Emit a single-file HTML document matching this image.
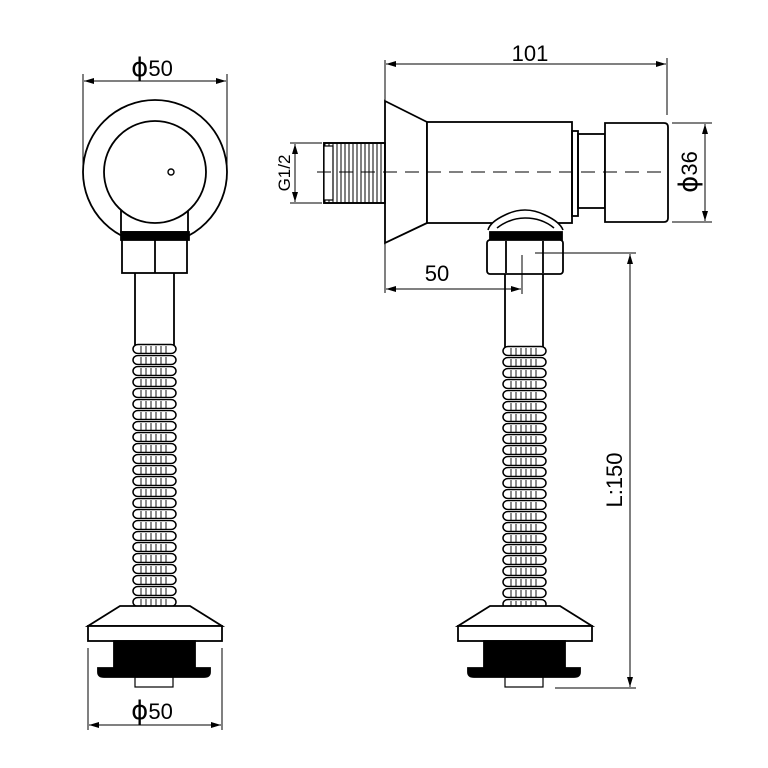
<!DOCTYPE html>
<html><head><style>html,body{margin:0;padding:0;background:#fff}svg{display:block}</style></head>
<body>
<svg width="768" height="768" viewBox="0 0 768 768" xmlns="http://www.w3.org/2000/svg" font-family="Liberation Sans, sans-serif">
<defs>
<pattern id="spr" x="132" y="343" width="60" height="11" patternUnits="userSpaceOnUse">
<rect x="1" y="1.5" width="43" height="9" rx="5" fill="#fff" stroke="#000" stroke-width="1.5"/>
<path d="M9 3v7M14 3v7M19 3v7M24 3v7M29 3v7M34 3v7" stroke="#000" stroke-width="0.9"/>
</pattern>
<pattern id="spr2" x="502" y="345" width="60" height="11" patternUnits="userSpaceOnUse">
<rect x="1" y="1.5" width="43" height="9" rx="5" fill="#fff" stroke="#000" stroke-width="1.5"/>
<path d="M9 3v7M14 3v7M19 3v7M24 3v7M29 3v7M34 3v7" stroke="#000" stroke-width="0.9"/>
</pattern>
<pattern id="thr" x="324" y="143" width="4" height="60" patternUnits="userSpaceOnUse">
<rect width="4" height="60" fill="#fff"/><line x1="1" y1="0" x2="1" y2="60" stroke="#000" stroke-width="1"/>
</pattern>
<marker id="ar" viewBox="0 0 10 6" refX="10" refY="3" markerWidth="10" markerHeight="6" orient="auto-start-reverse" markerUnits="userSpaceOnUse"><path d="M0 0L10 3L0 6z" fill="#000"/></marker>
</defs>
<g fill="none" stroke="#000" stroke-width="1.8">
<!-- LEFT VIEW -->
<circle cx="155" cy="172" r="72"/>
<path d="M121 205 V232 H188 V205"/>
<circle cx="155" cy="172" r="51" fill="#fff"/>
<circle cx="171" cy="172" r="3" stroke-width="1.4"/>
<rect x="121" y="232" width="68" height="8" fill="#000"/>
<rect x="122" y="240" width="65" height="33" fill="#fff"/>
<line x1="155" y1="240" x2="155" y2="273"/>
<path d="M135 273 V345 M174 273 V345"/>
<rect x="132" y="343" width="46" height="263" fill="url(#spr)" stroke="none"/>
<!-- left base -->
<path d="M120 606 H190 L222 626 H88 Z" fill="#fff"/>
<rect x="88" y="626" width="134" height="15" fill="#fff"/>
<rect x="114" y="641" width="81" height="27" fill="#000"/>
<path d="M98 668 H210 V672 Q210 677 204 677 H104 Q98 677 98 672 Z" fill="#000"/>
<rect x="135" y="677" width="38" height="10" stroke-width="1.2"/>
<!-- RIGHT VIEW -->
<rect x="324" y="143" width="61" height="60" fill="url(#thr)" />
<path d="M385 101 L427 122 V223 L385 243 Z" fill="#fff"/>
<rect x="427" y="122" width="145" height="101" fill="#fff"/>
<rect x="572" y="131" width="6" height="85"/>
<rect x="578" y="134" width="27" height="74"/>
<path d="M605 123 H664 Q668 123 668 127 V218 Q668 222 664 222 H605 Z" fill="#fff"/>
<path d="M488 230 Q490 222 505 215 Q525 205 545 215 Q560 222 563 230 M497 228 Q510 218 525 218 Q542 218 554 228" stroke-width="1.6" fill="#fff"/>
<rect x="490" y="232" width="72" height="8" fill="#000"/>
<rect x="487" y="240" width="76" height="34" rx="3" fill="#fff"/>
<path d="M506 241 V273 M543 241 V273"/>
<path d="M505 274 V348 M543 274 V348"/>
<rect x="502" y="345" width="46" height="262" fill="url(#spr2)" stroke="none"/>
<path d="M490 606 H560 L592 626 H458 Z" fill="#fff"/>
<rect x="458" y="626" width="134" height="15" fill="#fff"/>
<rect x="484" y="641" width="81" height="27" fill="#000"/>
<path d="M468 668 H580 V672 Q580 677 574 677 H474 Q468 677 468 672 Z" fill="#000"/>
<rect x="505" y="677" width="38" height="10" stroke-width="1.2"/>
<rect x="324" y="143" width="61" height="60" stroke-width="1.6"/>
<rect x="324" y="146" width="9" height="54" fill="#fff" stroke-width="1.2"/>
<!-- centerline -->
<line x1="317" y1="172" x2="668" y2="172" stroke-width="1" stroke-dasharray="14,8"/>
<!-- dimensions -->
<g stroke-width="1">
<line x1="83" y1="74" x2="83" y2="170"/><line x1="227" y1="74" x2="227" y2="170"/>
<line x1="84" y1="81" x2="226" y2="81" marker-start="url(#ar)" marker-end="url(#ar)"/>
<line x1="88" y1="648" x2="88" y2="730"/><line x1="222" y1="648" x2="222" y2="730"/>
<line x1="89" y1="725" x2="221" y2="725" marker-start="url(#ar)" marker-end="url(#ar)"/>
<line x1="385" y1="60" x2="385" y2="293"/><line x1="667" y1="58" x2="667" y2="115"/>
<line x1="386" y1="64" x2="666" y2="64" marker-start="url(#ar)" marker-end="url(#ar)"/>
<line x1="290" y1="143" x2="322" y2="143"/><line x1="290" y1="203" x2="322" y2="203"/>
<line x1="295" y1="144" x2="295" y2="202" marker-start="url(#ar)" marker-end="url(#ar)"/>
<line x1="672" y1="123" x2="712" y2="123"/><line x1="672" y1="222" x2="712" y2="222"/>
<line x1="705" y1="124" x2="705" y2="221" marker-start="url(#ar)" marker-end="url(#ar)"/>
<line x1="522" y1="255" x2="522" y2="294"/>
<line x1="386" y1="289" x2="521" y2="289" marker-start="url(#ar)" marker-end="url(#ar)"/>
<line x1="535" y1="253" x2="636" y2="253"/><line x1="555" y1="688" x2="636" y2="688"/>
<line x1="630" y1="254" x2="630" y2="687" marker-start="url(#ar)" marker-end="url(#ar)"/>
</g>
</g>
<g fill="#000" font-size="22" text-anchor="middle">
<text x="152" y="76"><tspan font-size="26" font-family="DejaVu Sans, sans-serif">ϕ</tspan>50</text>
<text x="152" y="719"><tspan font-size="26" font-family="DejaVu Sans, sans-serif">ϕ</tspan>50</text>
<text x="530" y="61">101</text>
<text x="437" y="281">50</text>
<text transform="translate(290,173) rotate(-90)" font-size="17">G1/2</text>
<text transform="translate(697,172) rotate(-90)"><tspan font-size="26" font-family="DejaVu Sans, sans-serif">ϕ</tspan>36</text>
<text transform="translate(622,480) rotate(-90)">L:150</text>
</g>
</svg>
</body></html>
